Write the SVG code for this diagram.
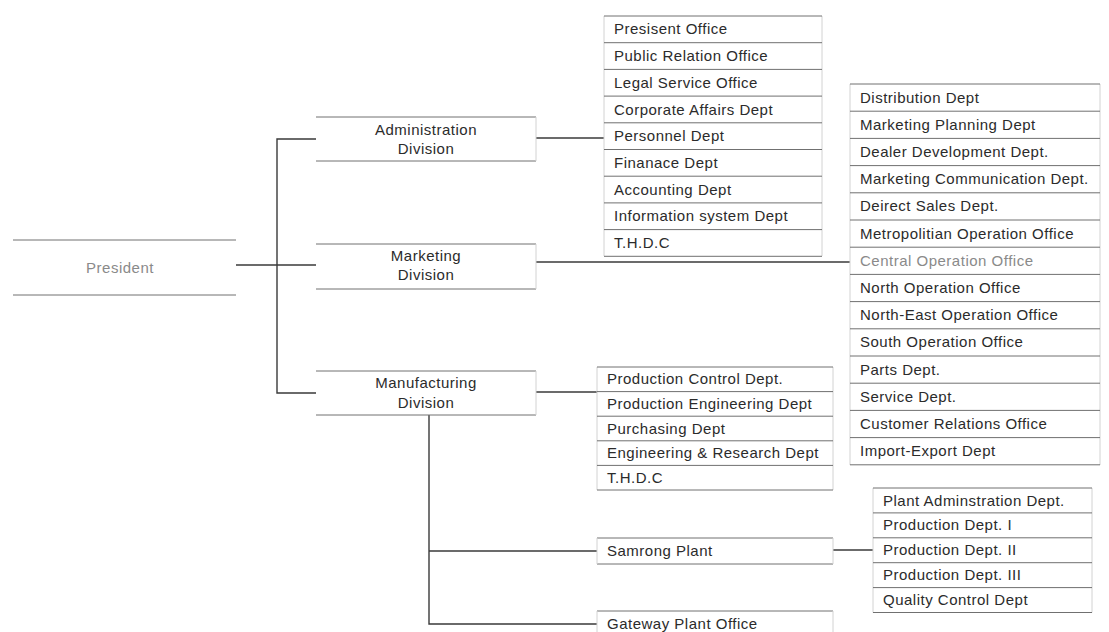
<svg xmlns="http://www.w3.org/2000/svg" width="1109" height="632" viewBox="0 0 1109 632">
<style>
.bg{fill:#ffffff}
.sep{stroke:#707070;stroke-width:1;fill:none}
.side{stroke:#d2d2d2;stroke-width:1;fill:none}
.conn{stroke:#3a3a3a;stroke-width:1.4;fill:none}
.t{font-family:"Liberation Sans",Arial,sans-serif;font-size:15px;letter-spacing:0.5px;fill:#2b2b2b}
.c{text-anchor:middle}
.lt{fill:#8a8a8a}
</style>
<rect class="bg" x="0" y="0" width="1109" height="632"/>

<g id="connectors">
<path class="conn" d="M236 265 H316"/>
<path class="conn" d="M316 139 H277 V393 H316"/>
<path class="conn" d="M536 138 H604"/>
<path class="conn" d="M536 262 H850"/>
<path class="conn" d="M536 392 H597"/>
<path class="conn" d="M429 415 V624 H597"/>
<path class="conn" d="M429 551 H597"/>
<path class="conn" d="M833 550 H873"/>
</g>

<g id="president">
<line class="sep" x1="13" y1="240" x2="236" y2="240"/>
<line class="sep" x1="13" y1="295" x2="236" y2="295"/>
<text class="t c lt" x="120" y="273">President</text>
</g>

<g id="admin-division">
<line class="sep" x1="316" y1="117" x2="536" y2="117"/>
<line class="sep" x1="316" y1="161" x2="536" y2="161"/>
<line class="side" x1="536" y1="117" x2="536" y2="161"/>
<text class="t c" x="426" y="135">Administration</text>
<text class="t c" x="426" y="154">Division</text>
</g>

<g id="marketing-division">
<line class="sep" x1="316" y1="244" x2="536" y2="244"/>
<line class="sep" x1="316" y1="289" x2="536" y2="289"/>
<line class="side" x1="536" y1="244" x2="536" y2="289"/>
<text class="t c" x="426" y="261">Marketing</text>
<text class="t c" x="426" y="280">Division</text>
</g>

<g id="manufacturing-division">
<line class="sep" x1="316" y1="371" x2="536" y2="371"/>
<line class="sep" x1="316" y1="415" x2="536" y2="415"/>
<line class="side" x1="536" y1="371" x2="536" y2="415"/>
<text class="t c" x="426" y="388">Manufacturing</text>
<text class="t c" x="426" y="408">Division</text>
</g>

<g id="admin-offices">
<line class="side" x1="604" y1="16" x2="604" y2="256"/>
<line class="side" x1="822" y1="16" x2="822" y2="256"/>
<line class="sep" x1="604" y1="16" x2="822" y2="16"/>
<line class="sep" x1="604" y1="42.7" x2="822" y2="42.7"/>
<line class="sep" x1="604" y1="69.4" x2="822" y2="69.4"/>
<line class="sep" x1="604" y1="96.1" x2="822" y2="96.1"/>
<line class="sep" x1="604" y1="122.8" x2="822" y2="122.8"/>
<line class="sep" x1="604" y1="149.5" x2="822" y2="149.5"/>
<line class="sep" x1="604" y1="176.2" x2="822" y2="176.2"/>
<line class="sep" x1="604" y1="202.9" x2="822" y2="202.9"/>
<line class="sep" x1="604" y1="229.6" x2="822" y2="229.6"/>
<line class="sep" x1="604" y1="256.3" x2="822" y2="256.3"/>
<text class="t" x="614" y="34.4">Presisent Office</text>
<text class="t" x="614" y="61">Public Relation Office</text>
<text class="t" x="614" y="87.8">Legal Service Office</text>
<text class="t" x="614" y="114.5">Corporate Affairs Dept</text>
<text class="t" x="614" y="141.2">Personnel Dept</text>
<text class="t" x="614" y="167.9">Finanace Dept</text>
<text class="t" x="614" y="194.6">Accounting Dept</text>
<text class="t" x="614" y="221.3">Information system Dept</text>
<text class="t" x="614" y="248">T.H.D.C</text>
</g>

<g id="marketing-offices">
<line class="side" x1="850" y1="84" x2="850" y2="465"/>
<line class="side" x1="1100" y1="84" x2="1100" y2="465"/>
<line class="sep" x1="850" y1="84" x2="1100" y2="84"/>
<line class="sep" x1="850" y1="111.2" x2="1100" y2="111.2"/>
<line class="sep" x1="850" y1="138.4" x2="1100" y2="138.4"/>
<line class="sep" x1="850" y1="165.6" x2="1100" y2="165.6"/>
<line class="sep" x1="850" y1="192.8" x2="1100" y2="192.8"/>
<line class="sep" x1="850" y1="220" x2="1100" y2="220"/>
<line class="sep" x1="850" y1="247.2" x2="1100" y2="247.2"/>
<line class="sep" x1="850" y1="274.4" x2="1100" y2="274.4"/>
<line class="sep" x1="850" y1="301.6" x2="1100" y2="301.6"/>
<line class="sep" x1="850" y1="328.8" x2="1100" y2="328.8"/>
<line class="sep" x1="850" y1="356" x2="1100" y2="356"/>
<line class="sep" x1="850" y1="383.2" x2="1100" y2="383.2"/>
<line class="sep" x1="850" y1="410.4" x2="1100" y2="410.4"/>
<line class="sep" x1="850" y1="437.6" x2="1100" y2="437.6"/>
<line class="sep" x1="850" y1="464.8" x2="1100" y2="464.8"/>
<text class="t" x="860" y="102.6">Distribution Dept</text>
<text class="t" x="860" y="129.8">Marketing Planning Dept</text>
<text class="t" x="860" y="157">Dealer Development Dept.</text>
<text class="t" x="860" y="184.2">Marketing Communication Dept.</text>
<text class="t" x="860" y="211.4">Deirect Sales Dept.</text>
<text class="t" x="860" y="238.6">Metropolitian Operation Office</text>
<text class="t lt" x="860" y="265.8">Central Operation Office</text>
<text class="t" x="860" y="293">North Operation Office</text>
<text class="t" x="860" y="320.2">North-East Operation Office</text>
<text class="t" x="860" y="347.4">South Operation Office</text>
<text class="t" x="860" y="374.6">Parts Dept.</text>
<text class="t" x="860" y="401.8">Service Dept.</text>
<text class="t" x="860" y="429">Customer Relations Office</text>
<text class="t" x="860" y="456.2">Import-Export Dept</text>
</g>

<g id="manufacturing-offices">
<line class="side" x1="597" y1="367" x2="597" y2="490"/>
<line class="side" x1="833" y1="367" x2="833" y2="490"/>
<line class="sep" x1="597" y1="367" x2="833" y2="367"/>
<line class="sep" x1="597" y1="391.6" x2="833" y2="391.6"/>
<line class="sep" x1="597" y1="416.2" x2="833" y2="416.2"/>
<line class="sep" x1="597" y1="440.8" x2="833" y2="440.8"/>
<line class="sep" x1="597" y1="465.4" x2="833" y2="465.4"/>
<line class="sep" x1="597" y1="490" x2="833" y2="490"/>
<text class="t" x="607" y="384.3">Production Control Dept.</text>
<text class="t" x="607" y="408.9">Production Engineering Dept</text>
<text class="t" x="607" y="433.5">Purchasing Dept</text>
<text class="t" x="607" y="458.1">Engineering &amp; Research Dept</text>
<text class="t" x="607" y="482.7">T.H.D.C</text>
</g>

<g id="samrong-plant">
<line class="sep" x1="597" y1="538" x2="833" y2="538"/>
<line class="sep" x1="597" y1="564" x2="833" y2="564"/>
<line class="side" x1="597" y1="538" x2="597" y2="564"/>
<line class="side" x1="833" y1="538" x2="833" y2="564"/>
<text class="t" x="607" y="556">Samrong Plant</text>
</g>

<g id="gateway-plant">
<line class="sep" x1="597" y1="611" x2="833" y2="611"/>
<line class="side" x1="597" y1="611" x2="597" y2="632"/>
<line class="side" x1="833" y1="611" x2="833" y2="632"/>
<text class="t" x="607" y="629">Gateway Plant Office</text>
</g>

<g id="plant-departments">
<line class="side" x1="873" y1="488" x2="873" y2="612.5"/>
<line class="side" x1="1092" y1="488" x2="1092" y2="612.5"/>
<line class="sep" x1="873" y1="488" x2="1092" y2="488"/>
<line class="sep" x1="873" y1="512.9" x2="1092" y2="512.9"/>
<line class="sep" x1="873" y1="537.8" x2="1092" y2="537.8"/>
<line class="sep" x1="873" y1="562.7" x2="1092" y2="562.7"/>
<line class="sep" x1="873" y1="587.6" x2="1092" y2="587.6"/>
<line class="sep" x1="873" y1="612.5" x2="1092" y2="612.5"/>
<text class="t" x="883" y="505.5">Plant Adminstration Dept.</text>
<text class="t" x="883" y="530.4">Production Dept. I</text>
<text class="t" x="883" y="555.3">Production Dept. II</text>
<text class="t" x="883" y="580.2">Production Dept. III</text>
<text class="t" x="883" y="605.1">Quality Control Dept</text>
</g>
</svg>
